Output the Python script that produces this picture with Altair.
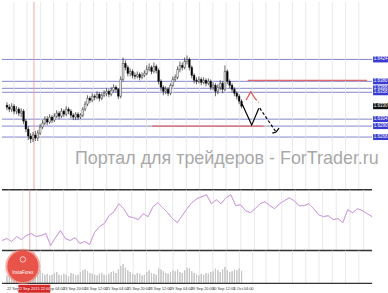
import altair as alt
import pandas as pd

# ---------------- data ----------------
bar_open = [1.6332,1.6328,1.6324,1.6330,1.6320,1.6324,1.6316,1.6320,1.6300,1.6284,
            1.6270,1.6264,1.6272,1.6266,1.6276,1.6288,1.6296,1.6304,1.6298,1.6308,
            1.6302,1.6310,1.6316,1.6310,1.6320,1.6314,1.6324,1.6320,1.6312,1.6308,
            1.6314,1.6308,1.6312,1.6324,1.6334,1.6346,1.6342,1.6350,1.6348,1.6354,
            1.6346,1.6352,1.6356,1.6360,1.6354,1.6362,1.6368,1.6364,1.6350,1.6384,
            1.6416,1.6408,1.6396,1.6400,1.6392,1.6390,1.6394,1.6388,1.6392,1.6396,
            1.6404,1.6408,1.6400,1.6410,1.6402,1.6380,1.6368,1.6360,1.6364,1.6356,
            1.6372,1.6384,1.6388,1.6404,1.6412,1.6408,1.6420,1.6424,1.6408,1.6392,
            1.6382,1.6380,1.6384,1.6378,1.6382,1.6376,1.6380,1.6368,1.6372,1.6360,
            1.6368,1.6376,1.6364,1.6400,1.6380,1.6372,1.6364,1.6356,1.6350,1.6340]
bar_close = [1.6328,1.6324,1.6330,1.6320,1.6324,1.6316,1.6320,1.6300,1.6284,1.6270,
             1.6264,1.6272,1.6266,1.6276,1.6288,1.6296,1.6304,1.6298,1.6308,1.6302,
             1.6310,1.6316,1.6310,1.6320,1.6314,1.6324,1.6320,1.6312,1.6308,1.6314,
             1.6308,1.6312,1.6324,1.6334,1.6346,1.6342,1.6350,1.6348,1.6354,1.6346,
             1.6352,1.6356,1.6360,1.6354,1.6362,1.6368,1.6364,1.6350,1.6384,1.6416,
             1.6408,1.6396,1.6400,1.6392,1.6390,1.6394,1.6388,1.6392,1.6396,1.6404,
             1.6408,1.6400,1.6410,1.6402,1.6380,1.6368,1.6360,1.6364,1.6356,1.6372,
             1.6384,1.6388,1.6404,1.6412,1.6408,1.6420,1.6424,1.6408,1.6392,1.6382,
             1.6380,1.6384,1.6378,1.6382,1.6376,1.6380,1.6368,1.6372,1.6360,1.6368,
             1.6376,1.6364,1.6400,1.6380,1.6372,1.6364,1.6356,1.6350,1.6340,1.6330]
bar_high = [1.6338,1.6334,1.6336,1.6334,1.6330,1.6328,1.6326,1.6324,1.6304,1.6290,
            1.6276,1.6278,1.6280,1.6282,1.6294,1.6302,1.6310,1.6310,1.6314,1.6312,
            1.6316,1.6322,1.6320,1.6326,1.6324,1.6330,1.6328,1.6324,1.6316,1.6318,
            1.6318,1.6316,1.6328,1.6340,1.6352,1.6350,1.6356,1.6354,1.6360,1.6358,
            1.6356,1.6362,1.6366,1.6364,1.6368,1.6374,1.6372,1.6366,1.6390,1.6428,
            1.6422,1.6412,1.6406,1.6404,1.6398,1.6400,1.6398,1.6398,1.6402,1.6412,
            1.6416,1.6412,1.6418,1.6414,1.6406,1.6384,1.6372,1.6370,1.6368,1.6376,
            1.6390,1.6394,1.6410,1.6420,1.6418,1.6428,1.6432,1.6428,1.6412,1.6396,
            1.6388,1.6390,1.6388,1.6388,1.6386,1.6386,1.6384,1.6378,1.6376,1.6374,
            1.6382,1.6380,1.6412,1.6404,1.6384,1.6376,1.6368,1.6360,1.6354,1.6344]
bar_low = [1.6322,1.6318,1.6318,1.6314,1.6314,1.6310,1.6308,1.6294,1.6278,1.6262,
           1.6256,1.6258,1.6260,1.6260,1.6272,1.6284,1.6292,1.6292,1.6294,1.6296,
           1.6298,1.6306,1.6304,1.6306,1.6308,1.6310,1.6314,1.6306,1.6302,1.6302,
           1.6302,1.6304,1.6308,1.6320,1.6330,1.6336,1.6338,1.6342,1.6344,1.6340,
           1.6342,1.6348,1.6350,1.6348,1.6350,1.6358,1.6358,1.6344,1.6346,1.6380,
           1.6402,1.6390,1.6390,1.6386,1.6384,1.6386,1.6382,1.6384,1.6388,1.6392,
           1.6400,1.6394,1.6396,1.6396,1.6374,1.6360,1.6352,1.6354,1.6350,1.6352,
           1.6368,1.6380,1.6384,1.6398,1.6402,1.6404,1.6414,1.6402,1.6386,1.6376,
           1.6374,1.6376,1.6372,1.6374,1.6370,1.6372,1.6362,1.6362,1.6350,1.6354,
           1.6362,1.6356,1.6360,1.6374,1.6366,1.6358,1.6350,1.6344,1.6334,1.6326]
bar_volume = [900,1100,800,1200,1000,1300,1500,1700,1900,1600,
              1400,1200,1100,1300,1500,1200,1000,1100,900,1000,
              1200,1300,1000,900,1100,1000,800,1200,1100,900,
              1000,1300,1500,1600,1400,1200,1100,1000,900,1100,
              1200,1000,900,1100,1300,1400,1200,1600,2000,2200,
              1800,1500,1300,1100,1000,1200,1100,900,1000,1300,
              1500,1200,1100,1000,1700,1600,1400,1200,1100,1300,
              1500,1400,1600,1300,1200,1500,1800,1700,1400,1200,
              1000,900,1100,1000,1200,1100,1300,1400,1700,1500,
              1300,1600,1900,1500,1300,1400,1600,1500,1700,1400]

ind_index = list(range(0, 153, 2))
ind_values = [10,12,9,14,11,15,17,14,15,17,5,13,20,12,10,13,7,9,6,18,
              24,27,35,39,47,42,34,33,31,37,34,44,48,43,38,32,28,35,42,48,
              52,54,56,47,51,47,53,56,45,46,40,38,42,47,49,45,42,47,50,53,
              50,45,45,47,42,36,34,35,31,32,28,41,38,42,40,37,34]

level_blue = [1.6424, 1.6380, 1.6366, 1.6358, 1.6304, 1.6290, 1.6268]
red_level = [1.6382, 1.6290]
red_start = [101.6, 61.3]
red_end = [152.0, 108.3]
current_price = 1.6330

price_ticks = [1.6520, 1.6498, 1.6476, 1.6454, 1.6432, 1.6410, 1.6388, 1.6366,
               1.6344, 1.6322, 1.6300, 1.6278, 1.6256, 1.6234, 1.6212, 1.6190, 1.6168]

black_solid_x = [99.3, 103.3, 106.3]
black_solid_y = [1.6334, 1.6292, 1.6326]
black_dash_x = [106.7, 113.6]
black_dash_y = [1.6326, 1.6278]
black_head_x = [112.0, 113.6, 114.8]
black_head_y = [1.6276, 1.6278, 1.6286]
red_solid_x = [100.9, 102.9, 104.6]
red_solid_y = [1.6342, 1.6359, 1.6346]
red_dash_x = [104.6, 106.3]
red_dash_y = [1.6346, 1.6338]

time_label_pos = [0, 14.7, 23.7, 32.7, 41.7, 50.7, 59.7, 68.7, 77.6, 86.6, 95.6]
time_label_text = ["22 Sep 2015", "23 Sep 04:00", "23 Sep 20:00", "24 Sep 12:00",
                   "25 Sep 04:00", "25 Sep 20:00", "28 Sep 12:00", "29 Sep 04:00",
                   "29 Sep 20:00", "30 Sep 12:00", "1 Oct 04:00"]
cursor_pos = 11.4
cursor_text = "22 Sep 2015 22:00"
watermark = "Портал для трейдеров - ForTrader.ru"

# ---------------- chart ----------------
W = 372
FONT = "Liberation Sans"
X_SCALE = alt.Scale(domain=[0, 152], nice=False, zero=False)
P_SCALE = alt.Scale(domain=[1.6162, 1.6540], nice=False, zero=False)
IND_SCALE = alt.Scale(domain=[0, 61], nice=False, zero=False)
VOL_SCALE = alt.Scale(domain=[0, 3800], nice=False, zero=False)
grid_x = [2.9 + 5.6 * k for k in range(27)]

df = pd.DataFrame({"i": list(range(len(bar_close))), "open": bar_open, "close": bar_close,
                   "high": bar_high, "low": bar_low, "vol": bar_volume})

def xq(field):
    return alt.X(field, type="quantitative", scale=X_SCALE, axis=None)

grid_v = alt.Chart(pd.DataFrame({"g": grid_x})).mark_rule(
    color="#e0e0e0", strokeWidth=0.7).encode(x=xq("g"))
cursor = alt.Chart(pd.DataFrame({"c": [cursor_pos]})).mark_rule(
    color="#eaa0a0", strokeWidth=0.9).encode(x=xq("c"))

def right_axis(**kw):
    base = dict(orient="right", ticks=False, labelFontSize=4.5, labelColor="#444",
                labelPadding=2, labelFont=FONT, domainColor="#333", domainWidth=1, title=None)
    base.update(kw)
    return alt.Axis(**base)

# main panel
levels = alt.Chart(pd.DataFrame({"level": level_blue})).mark_rule(
    color="#8585cc", strokeWidth=1).encode(
    y=alt.Y("level:Q", scale=P_SCALE,
            axis=right_axis(values=price_ticks, format=".4f", grid=True,
                            gridColor="#e0e0e0", gridWidth=0.7)))
red_lines = alt.Chart(pd.DataFrame({"level": red_level, "s": red_start, "e": red_end})).mark_rule(
    color="#e06a6a", strokeWidth=1.3).encode(
    x=xq("s"), x2="e", y=alt.Y("level:Q", scale=P_SCALE, axis=None))
wm = alt.Chart(pd.DataFrame({"t": [watermark]})).mark_text(
    font=FONT, fontSize=18, color="#9a9a9a", opacity=0.85, align="center", baseline="middle").encode(
    x=alt.value(226), y=alt.value(158), text="t:N")
wicks = alt.Chart(df).mark_rule(color="black", strokeWidth=0.6).encode(
    x=xq("i"), y=alt.Y("low:Q", scale=P_SCALE, axis=None), y2="high")
bodies = alt.Chart(df).mark_bar(size=1.7, stroke="black", strokeWidth=0.4).encode(
    x=xq("i"), y=alt.Y("open:Q", scale=P_SCALE, axis=None), y2="close",
    fill=alt.condition("datum.close >= datum.open", alt.value("white"), alt.value("black")))

def path(xs, ys, color, dash=None, width=1.2):
    d = pd.DataFrame({"x": xs, "y": ys, "o": list(range(len(xs)))})
    kw = dict(color=color, strokeWidth=width)
    if dash:
        kw["strokeDash"] = dash
    return alt.Chart(d).mark_line(**kw).encode(
        x=xq("x"), y=alt.Y("y:Q", scale=P_SCALE, axis=None), order="o:Q")

paths = [path(black_solid_x, black_solid_y, "black"),
         path(black_dash_x, black_dash_y, "black", dash=[3, 2]),
         path(black_head_x, black_head_y, "black"),
         path(red_solid_x, red_solid_y, "#e05050"),
         path(red_dash_x, red_dash_y, "#e05050", dash=[3, 2])]

lab = pd.DataFrame({"level": level_blue + [current_price],
                    "kind": ["line"] * len(level_blue) + ["price"]})
lab["lo"] = lab["level"] - 0.0006
lab["hi"] = lab["level"] + 0.0006
lab_rect = alt.Chart(lab).mark_rect().encode(
    x=alt.value(W + 1), x2=alt.value(W + 16),
    y=alt.Y("lo:Q", scale=P_SCALE, axis=None), y2="hi",
    fill=alt.Fill("kind:N", scale=alt.Scale(domain=["line", "price"], range=["#3a3ad0", "#111111"]),
                  legend=None))
lab_text = alt.Chart(lab).mark_text(font=FONT, fontSize=4.5, color="white",
                                    align="center", baseline="middle").encode(
    x=alt.value(W + 8.5), y=alt.Y("level:Q", scale=P_SCALE, axis=None),
    text=alt.Text("level:Q", format=".4f"))
sep_main = alt.Chart(pd.DataFrame({"b": [1.6162]})).mark_rule(color="#333", strokeWidth=1.4).encode(
    y=alt.Y("b:Q", scale=P_SCALE, axis=None))

main = alt.layer(levels, grid_v, cursor, red_lines, wm, wicks, bodies, *paths,
                 sep_main, lab_rect, lab_text).properties(width=W, height=189)

# indicator panel
ind_df = pd.DataFrame({"i": ind_index, "v": ind_values})
ind_line = alt.Chart(ind_df).mark_line(color="#cfa3dc", strokeWidth=0.9).encode(
    x=xq("i"),
    y=alt.Y("v:Q", scale=IND_SCALE,
            axis=right_axis(values=[59, 3], grid=False,
                            labelExpr="format(1.5885 + datum.value * 0.0005, '.4f')")))
sep_ind = alt.Chart(pd.DataFrame({"b": [0]})).mark_rule(color="#333", strokeWidth=1.4).encode(
    y=alt.Y("b:Q", scale=IND_SCALE, axis=None))
ind = alt.layer(ind_line, grid_v, cursor, ind_line, sep_ind).properties(width=W, height=61)

# volume panel
vol_bars = alt.Chart(df).mark_bar(size=1.1, color="#c6c6c6").encode(
    x=xq("i"),
    y=alt.Y("vol:Q", scale=VOL_SCALE,
            axis=right_axis(values=[3400], grid=False, format="d")))
sep_vol = alt.Chart(pd.DataFrame({"b": [0]})).mark_rule(color="#333", strokeWidth=1.2).encode(
    y=alt.Y("b:Q", scale=VOL_SCALE, axis=None))
tl = alt.Chart(pd.DataFrame({"p": time_label_pos, "t": time_label_text})).mark_text(
    font=FONT, fontSize=3.9, color="#333", align="left", baseline="middle").encode(
    x=xq("p"), y=alt.value(38.5), text="t:N")
cur_lab = pd.DataFrame({"c": [cursor_pos], "a": [cursor_pos - 6.6], "b": [cursor_pos + 6.9],
                        "t": [cursor_text]})
cur_rect = alt.Chart(cur_lab).mark_rect(color="#d42a2a").encode(
    x=xq("a"), x2="b", y=alt.value(34.5), y2=alt.value(42.5))
cur_text = alt.Chart(cur_lab).mark_text(font=FONT, fontSize=3.9, color="white",
                                        align="center", baseline="middle").encode(
    x=xq("c"), y=alt.value(38.5), text="t:N")
logo_df = pd.DataFrame({"t": ["InstaForex"]})
logo_glow = alt.Chart(logo_df).mark_point(shape="circle", filled=True, color="#ee7a70",
                                          opacity=0.6, size=1250).encode(
    x=alt.value(21), y=alt.value(16))
logo = alt.Chart(logo_df).mark_point(shape="circle", filled=True, color="#e8544a",
                                     opacity=1, size=980).encode(
    x=alt.value(21), y=alt.value(16))
logo_icon = alt.Chart(logo_df).mark_point(shape="circle", filled=False, color="white",
                                          strokeWidth=1, size=30).encode(
    x=alt.value(21), y=alt.value(9))
logo_text = alt.Chart(logo_df).mark_text(font=FONT, fontSize=4.5, color="white",
                                         align="center", baseline="middle").encode(
    x=alt.value(21), y=alt.value(23), text="t:N")
vol = alt.layer(vol_bars, grid_v, cursor, vol_bars, sep_vol, tl, cur_rect, cur_text,
                logo_glow, logo, logo_icon, logo_text).properties(width=W, height=33)

chart = alt.vconcat(main, ind, vol, spacing=0, bounds="flush").properties(
    padding=0, background="white").configure_view(stroke=None)

chart.save("out.html", embed_options={"renderer": "svg", "actions": False})
